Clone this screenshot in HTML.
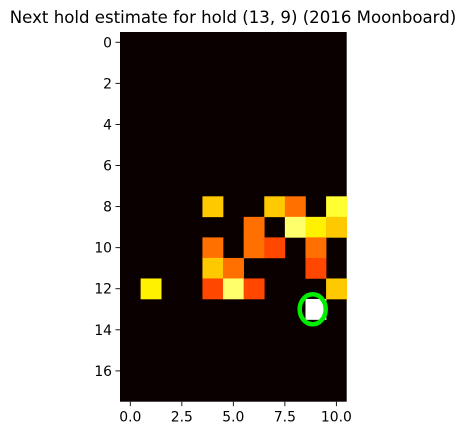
<!DOCTYPE html>
<html><head><meta charset="utf-8"><style>
html,body{margin:0;padding:0;background:#fff;}
svg{display:block;font-family:"DejaVu Sans","Liberation Sans",sans-serif;}
</style></head><body>
<svg id="chart" width="466" height="435" viewBox="0 0 466 435" xmlns="http://www.w3.org/2000/svg">
<text x="233" y="23" font-size="16.6" text-anchor="middle" fill="#000">Next hold estimate for hold (13, 9) (2016 Moonboard)</text>
<g id="plot"></g>
</svg>
<script>
const nRows = 18;
const nCols = 11;
const cellRows = [8, 8, 8, 8, 9, 9, 9, 9, 10, 10, 10, 10, 11, 11, 11, 12, 12, 12, 12, 12, 13];
const cellCols = [4, 7, 8, 10, 6, 8, 9, 10, 4, 6, 7, 9, 4, 5, 9, 1, 4, 5, 6, 10, 9];
const cellValues = [0.66, 0.66, 0.53, 0.79, 0.53, 0.85, 0.72, 0.66, 0.53, 0.53, 0.47, 0.53, 0.66, 0.53, 0.47, 0.72, 0.47, 0.85, 0.47, 0.66, 1.0];
const xTicks = [0, 2.5, 5, 7.5, 10];
const xTickLabels = ["0.0", "2.5", "5.0", "7.5", "10.0"];
const yTicks = [0, 2, 4, 6, 8, 10, 12, 14, 16];
const markerX = [8.85];
const markerY = [13];

const L = 120, R = 346.7, T = 32, B = 401.7;
const xs = v => L + (v + 0.5) * (R - L) / nCols;
const ys = v => T + (v + 0.5) * (B - T) / nRows;
const cw = (R - L) / nCols, ch = (B - T) / nRows;
function hot(v){
  const c = x => Math.max(0, Math.min(1, x));
  const r = c(0.0416 + v / 0.365 * (1 - 0.0416));
  const g = c((v - 0.365) / 0.375);
  const b = c((v - 0.74) / 0.26);
  return `rgb(${Math.round(r*255)},${Math.round(g*255)},${Math.round(b*255)})`;
}
const NS = "http://www.w3.org/2000/svg";
const plot = document.getElementById('plot');
function mk(tag, attrs){ const e = document.createElementNS(NS, tag); for (const k in attrs) e.setAttribute(k, attrs[k]); plot.appendChild(e); return e; }

const bg = mk('rect', {x: L, y: T, width: R - L, height: B - T, fill: hot(0)});



for (let i = 0; i < cellValues.length; i++) {
  const r = mk('rect', {x: xs(cellCols[i]) - cw/2, y: ys(cellRows[i]) - ch/2, width: cw + 0.3, height: ch + 0.3, fill: hot(cellValues[i])});
  
  
}

for (let i = 0; i < markerX.length; i++) {
  const m = mk('ellipse', {cx: xs(markerX[i]), cy: ys(markerY[i]), rx: 13, ry: 15, fill: 'none', stroke: '#00ee00', 'stroke-width': 4.5});
  
  
}

xTicks.forEach((v, i) => {
  const t = mk('line', {x1: xs(v), x2: xs(v), y1: B, y2: B + 4.5, stroke: '#000', 'stroke-width': 0.9});
  
  
  const l = mk('text', {x: xs(v), y: B + 20, 'font-size': 13.9, 'text-anchor': 'middle', fill: '#000'});
  l.textContent = xTickLabels[i];
  
  
});
yTicks.forEach(v => {
  const t = mk('line', {x1: L - 4.5, x2: L, y1: ys(v), y2: ys(v), stroke: '#000', 'stroke-width': 0.9});
  
  
  const l = mk('text', {x: L - 8, y: ys(v) + 5, 'font-size': 13.9, 'text-anchor': 'end', fill: '#000'});
  l.textContent = String(v);
  
  
});
</script>
</body></html>
